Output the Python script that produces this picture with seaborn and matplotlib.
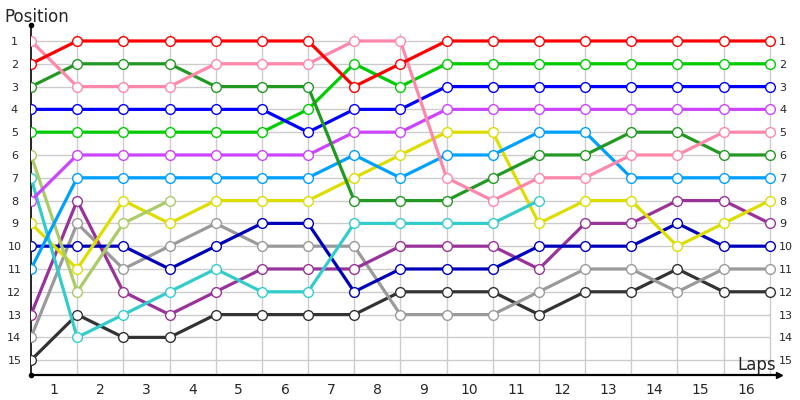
import numpy as np
import pandas as pd
import matplotlib
matplotlib.use("Agg")
import matplotlib.pyplot as plt
import seaborn as sns

# Lap index 0 is the grid/start, then one point per lap
LAPS = list(range(17))
LAP_LABELS = [str(i) for i in range(1, 17)]
POSITIONS = list(range(1, 16))

# Position of each car after every lap (shorter lists = retired)
red = [2, 1, 1, 1, 1, 1, 1, 3, 2, 1, 1, 1, 1, 1, 1, 1, 1]
pink = [1, 3, 3, 3, 2, 2, 2, 1, 1, 7, 8, 7, 7, 6, 6, 5, 5]
dark_green = [3, 2, 2, 2, 3, 3, 3, 8, 8, 8, 7, 6, 6, 5, 5, 6, 6]
blue = [4, 4, 4, 4, 4, 4, 5, 4, 4, 3, 3, 3, 3, 3, 3, 3, 3]
green = [5, 5, 5, 5, 5, 5, 4, 2, 3, 2, 2, 2, 2, 2, 2, 2, 2]
violet = [8, 6, 6, 6, 6, 6, 6, 5, 5, 4, 4, 4, 4, 4, 4, 4, 4]
light_blue = [11, 7, 7, 7, 7, 7, 7, 6, 7, 6, 6, 5, 5, 7, 7, 7, 7]
olive = [6, 12, 9, 8]
cyan = [7, 14, 13, 12, 11, 12, 12, 9, 9, 9, 9, 8]
yellow = [9, 11, 8, 9, 8, 8, 8, 7, 6, 5, 5, 9, 8, 8, 10, 9, 8]
navy = [10, 10, 10, 11, 10, 9, 9, 12, 11, 11, 11, 10, 10, 10, 9, 10, 10]
plum = [13, 8, 12, 13, 12, 11, 11, 11, 10, 10, 10, 11, 9, 9, 8, 8, 9]
gray = [14, 9, 11, 10, 9, 10, 10, 10, 13, 13, 13, 12, 11, 11, 12, 11, 11]
black = [15, 13, 14, 14, 13, 13, 13, 13, 12, 12, 12, 13, 12, 12, 11, 12, 12]

CARS = [
    (black, "#333333"),
    (gray, "#9a9a9a"),
    (plum, "#993399"),
    (navy, "#0000bb"),
    (yellow, "#dddd00"),
    (cyan, "#33cccc"),
    (olive, "#aacc66"),
    (light_blue, "#00a0ff"),
    (violet, "#cc44ff"),
    (green, "#00cc00"),
    (blue, "#0000ff"),
    (dark_green, "#229922"),
    (pink, "#ff88aa"),
    (red, "#ff0000"),
]

sns.set_style("white")
plt.rcParams["font.family"] = ["DejaVu Sans"]

fig = plt.figure(figsize=(8, 4), dpi=100)
ax = fig.add_axes([31 / 800, 1 - 375 / 400, (779 - 31) / 800, (375 - 25) / 400])

# light grid
ax.hlines(POSITIONS, 0, 16, color="#cccccc", lw=1, zorder=0)
ax.vlines(LAPS[1:], 0.65, 15.65, color="#cccccc", lw=1, zorder=0)

for values, col in CARS:
    df = pd.DataFrame({"lap": LAPS[:len(values)], "pos": values})
    sns.lineplot(data=df, x="lap", y="pos", ax=ax, color=col, lw=2.3,
                 marker="o", markersize=7, markerfacecolor="white",
                 markeredgecolor=col, markeredgewidth=1, sort=False,
                 estimator=None, zorder=3)

ax.set_xlim(0, 16.2)
ax.set_ylim(15.65, 0.3)
ax.set_xlabel("")
ax.set_ylabel("")

ax.set_yticks(POSITIONS)
ax.set_yticklabels([str(p) for p in POSITIONS], fontsize=8)
ax.tick_params(axis="y", length=0, pad=12)
for lbl in ax.get_yticklabels():
    lbl.set_ha("center")

ax.set_xticks(np.arange(0.5, 16, 1))
ax.set_xticklabels(LAP_LABELS, fontsize=10)
ax.tick_params(axis="x", length=0, pad=6)

# right hand labels
ax2 = ax.twinx()
ax2.set_ylim(ax.get_ylim())
ax2.set_yticks(POSITIONS)
ax2.set_yticklabels([str(p) for p in POSITIONS], fontsize=8)
ax2.tick_params(axis="y", length=0, pad=0)
for s in ax2.spines.values():
    s.set_visible(False)

for s in ["top", "right"]:
    ax.spines[s].set_visible(False)
ax.spines["left"].set_color("black")
ax.spines["left"].set_linewidth(1.2)
ax.spines["bottom"].set_color("black")
ax.spines["bottom"].set_linewidth(1.6)

# axis ends
ax.plot(1, 0, ">k", ms=5, transform=ax.transAxes, clip_on=False)
ax.plot(0, 1, "ok", ms=3, transform=ax.transAxes, clip_on=False)
ax.plot(0, 0, "ok", ms=3, transform=ax.transAxes, clip_on=False)

fig.text(4 / 800, 1 - 22 / 400, "Position", fontsize=12, ha="left", va="baseline")
fig.text(776 / 800, 1 - 370 / 400, "Laps", fontsize=12, ha="right", va="baseline")

fig.savefig("out.png", dpi=100)
